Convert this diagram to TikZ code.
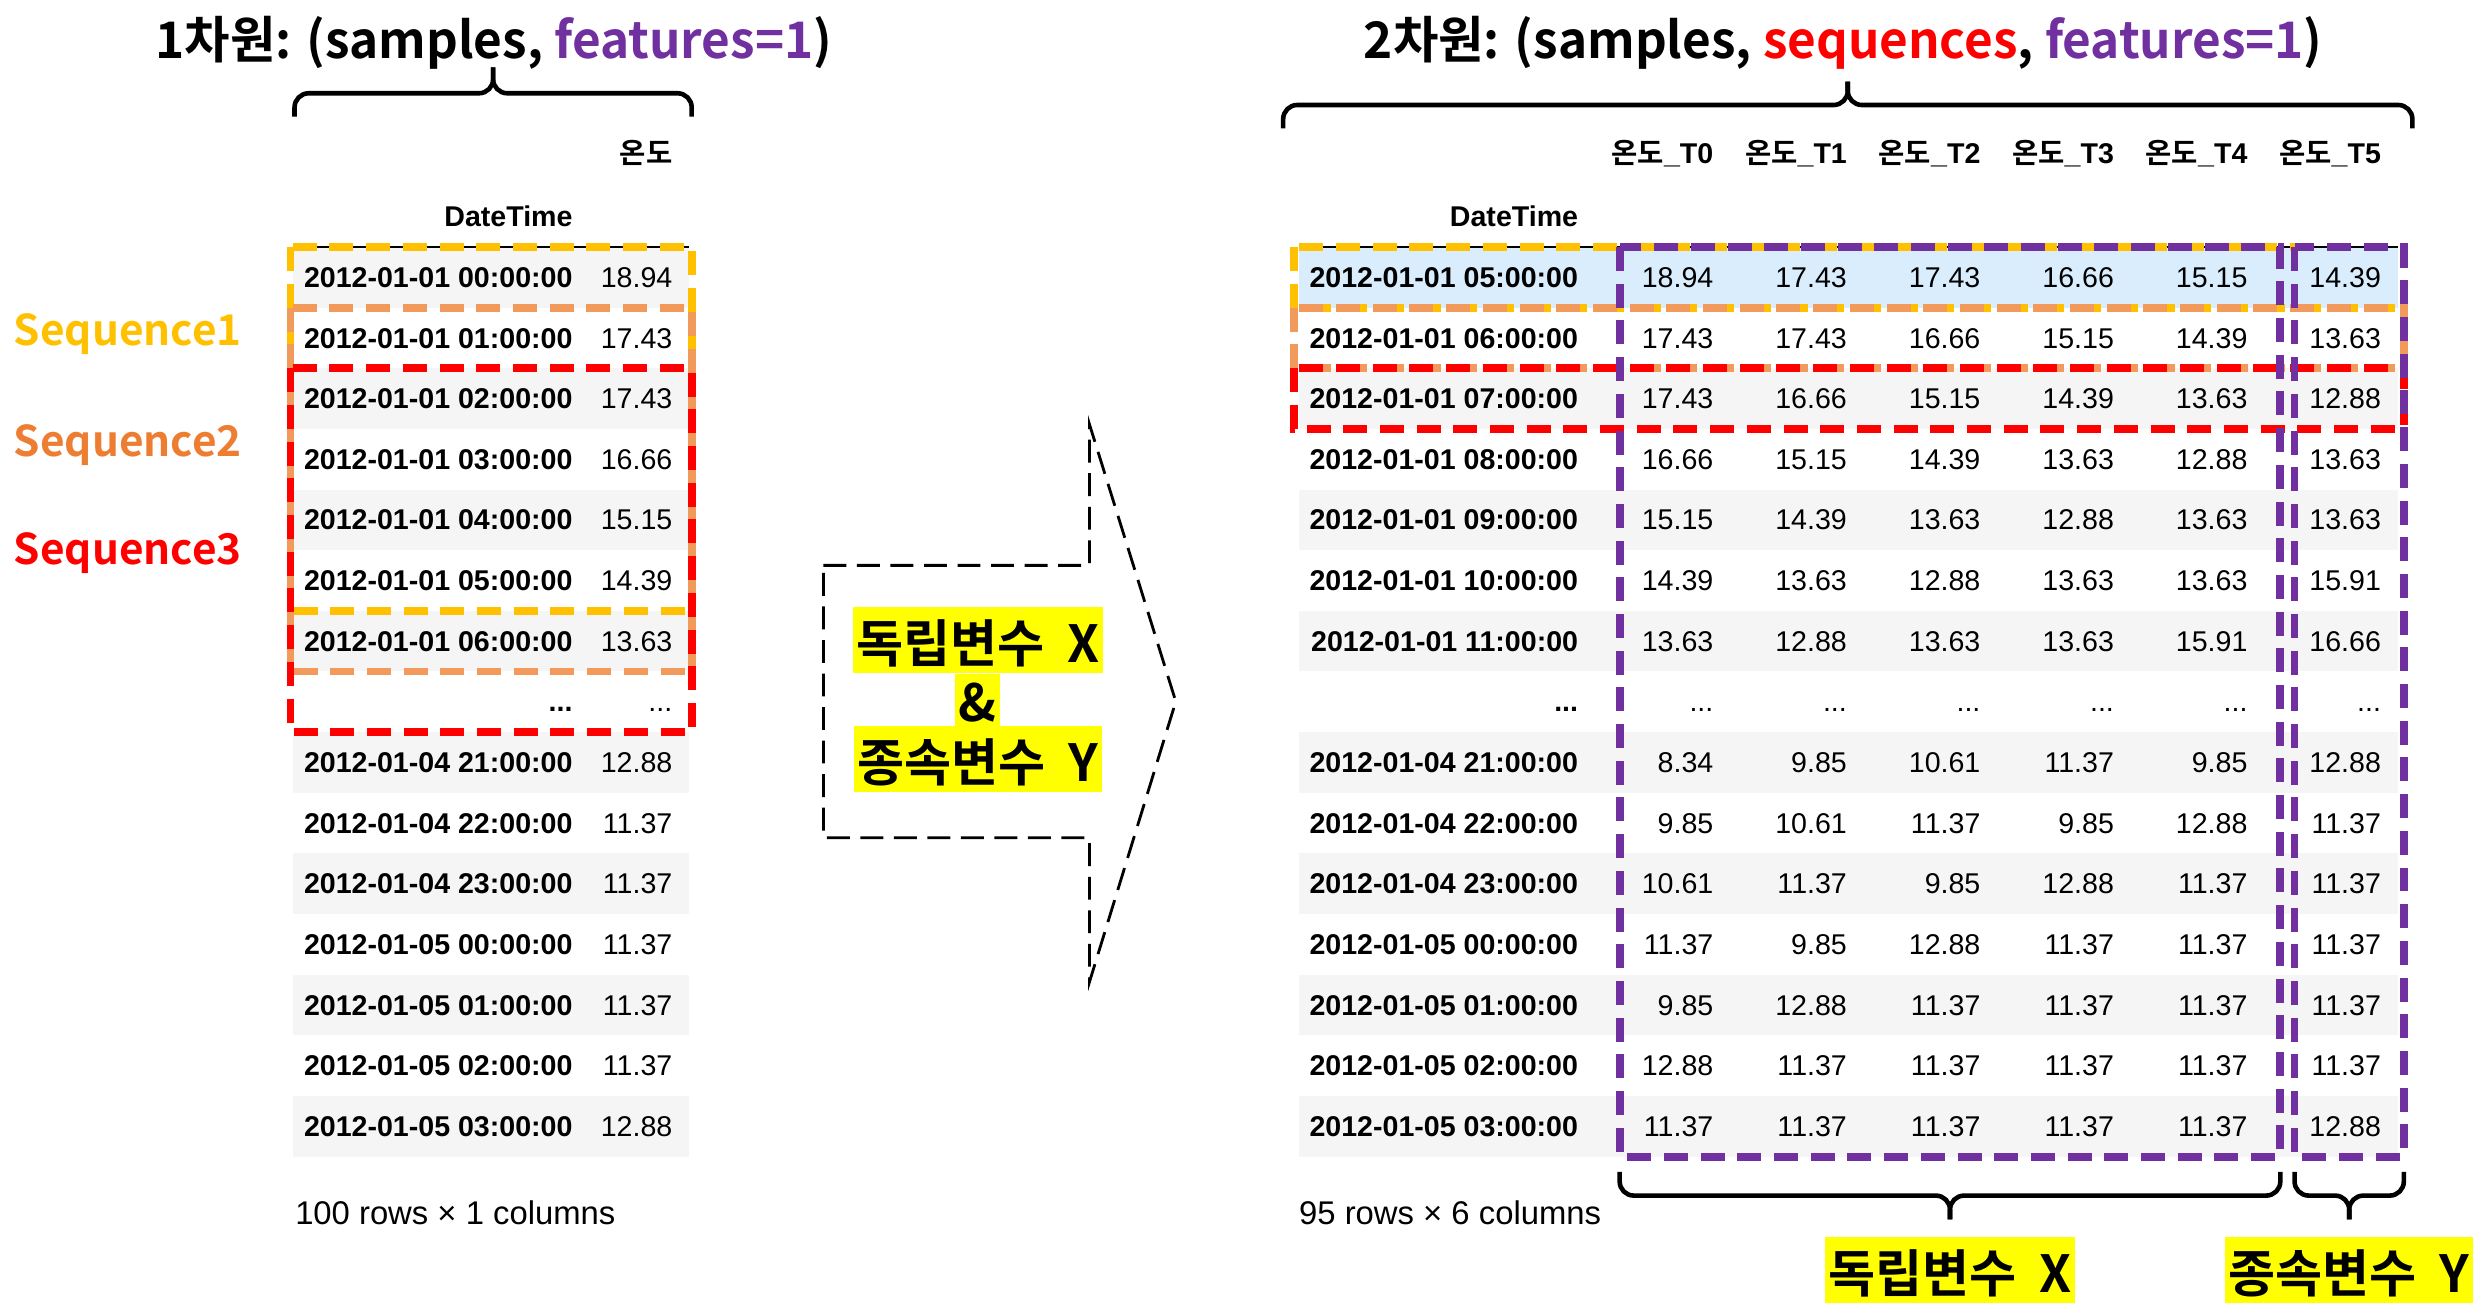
\documentclass[tikz,border=0pt]{standalone}
\usepackage{fontspec}
\setmainfont{Liberation Sans}
\newfontfamily\krfont{Noto Sans CJK KR}[BoldFont={Noto Sans CJK KR Bold}]
\newfontfamily\krtitle{Noto Sans CJK KR}[BoldFont={Noto Sans CJK KR Bold}, FakeStretch=0.98]
\usetikzlibrary{calc}

\definecolor{seqYellow}{HTML}{FFC000}
\definecolor{seqOrange}{HTML}{F19A5C}
\definecolor{seqOrangeText}{HTML}{ED7D31}
\definecolor{seqRed}{HTML}{FF0000}
\definecolor{featPurple}{HTML}{7030A0}
\definecolor{rowGray}{HTML}{F5F5F5}
\definecolor{rowBlue}{HTML}{D9EDFD}
\definecolor{markYellow}{HTML}{FFFF00}

\newcommand{\tbfont}{\fontsize{8.1pt}{9.5pt}\selectfont}
\newcommand{\skipdots}{...}
\newcommand{\vgap}{\hspace{0.45em}}
\tikzset{
  tb/date/.style={anchor=base east, inner sep=0pt, font=\tbfont\bfseries},
  tb/val/.style={anchor=base east, inner sep=0pt, font=\tbfont},
  tb/head/.style={anchor=base east, inner sep=0pt, font=\tbfont\bfseries},
  tb/foot/.style={anchor=base west, inner sep=0pt, font=\fontsize{9.3pt}{10pt}\selectfont},
  tb/rule/.style={line width=0.5pt, draw=black},
  ttl/.style={anchor=base, inner sep=0pt,
    font=\fontsize{14.3pt}{17pt}\selectfont\krtitle\bfseries},
  seq/lbl/.style={anchor=base east, inner sep=0pt,
    font=\fontsize{12pt}{14pt}\selectfont\krfont\bfseries},
  seq/box/.style={line width=2.2pt, dash pattern=on 6.8pt off 3.6pt},
  var/mark/.style={fill=markYellow, inner xsep=1pt, inner ysep=0pt,
    text height=15.6pt, text depth=3.1pt,
    font=\fontsize{14.5pt}{17pt}\selectfont\krfont\bfseries},
  var/amp/.style={var/mark, text height=13.6pt, text depth=1.4pt},
  brc/.style={line width=1.3pt, rounded corners=4pt},
  flow/.style={draw=black, line width=0.8pt, dash pattern=on 6.5pt off 3pt}
}
% x-left, x-right, y-ends, y-bar, y-tip
\newcommand{\tablebrace}[5]{%
  \pgfmathsetmacro\bxm{(#1+#2)/2}
  \draw[brc] (#1,#3) |- (\bxm,#4) -- (\bxm,#5);
  \draw[brc] (#2,#3) |- (\bxm,#4) -- (\bxm,#5);
}

\begin{document}
\begin{tikzpicture}[x=0.4488pt, y=-0.4488pt]
  \useasboundingbox (0,0) rectangle (1568,830);
  \def\rowH{38.29}

  % row stripes
  \foreach \i in {1,3,5,7,9,11,13,15} {
    \fill[rowGray] (185,{156+\rowH*(\i-1)}) rectangle (435,{156+\rowH*\i});
    \fill[rowGray] (820,{156+\rowH*(\i-1)}) rectangle (1514,{156+\rowH*\i});
  }
  \fill[rowBlue] (820,156) rectangle (1514,{156+\rowH});
  \draw[tb/rule] (185,156) -- (435,156);
  \draw[tb/rule] (820,156) -- (1514,156);

  % titles
  \node[ttl] (title-1d) at (311.8,37)
    {1차원: (samples, \textcolor{featPurple}{features=1})};
  \node[ttl] (title-2d) at (1164,37)
    {2차원: (samples, \textcolor{seqRed}{sequences}, \textcolor{featPurple}{features=1})};
  \tablebrace{186}{436.8}{73.7}{58.9}{42.6}
  \tablebrace{810.3}{1523.4}{81}{66.3}{51.5}

  % 1D table
  \node[tb/head] (L-head) at (425,103) {\krfont 온도};
  \node[tb/head] (L-index) at (362,143) {DateTime};
  \foreach \dt/\v [count=\i] in {2012-01-01 00:00:00/18.94,
    2012-01-01 01:00:00/17.43,
    2012-01-01 02:00:00/17.43,
    2012-01-01 03:00:00/16.66,
    2012-01-01 04:00:00/15.15,
    2012-01-01 05:00:00/14.39,
    2012-01-01 06:00:00/13.63,
    \skipdots/\skipdots,
    2012-01-04 21:00:00/12.88,
    2012-01-04 22:00:00/11.37,
    2012-01-04 23:00:00/11.37,
    2012-01-05 00:00:00/11.37,
    2012-01-05 01:00:00/11.37,
    2012-01-05 02:00:00/11.37,
    2012-01-05 03:00:00/12.88} {
    \node[tb/date] (L-d-\i) at (362,{181.5+\rowH*(\i-1)}) {\dt};
    \node[tb/val] (L-v-\i) at (425,{181.5+\rowH*(\i-1)}) {\v};
  }
  \node[tb/foot] (L-foot) at (186,773) {100 rows × 1 columns};

  % 2D table
  \foreach \j/\lab in {1/T0,2/T1,3/T2,4/T3,5/T4,6/T5}
    \node[tb/head] (R-head-\j) at ({1082.4+84.32*(\j-1)},103) {{\krfont 온도}\_\lab};
  \node[tb/head] (R-index) at (997,143) {DateTime};
  \foreach \dt/\va/\vb/\vc/\vd/\ve/\vf [count=\i] in {2012-01-01 05:00:00/18.94/17.43/17.43/16.66/15.15/14.39,
    2012-01-01 06:00:00/17.43/17.43/16.66/15.15/14.39/13.63,
    2012-01-01 07:00:00/17.43/16.66/15.15/14.39/13.63/12.88,
    2012-01-01 08:00:00/16.66/15.15/14.39/13.63/12.88/13.63,
    2012-01-01 09:00:00/15.15/14.39/13.63/12.88/13.63/13.63,
    2012-01-01 10:00:00/14.39/13.63/12.88/13.63/13.63/15.91,
    2012-01-01 11:00:00/13.63/12.88/13.63/13.63/15.91/16.66,
    \skipdots/\skipdots/\skipdots/\skipdots/\skipdots/\skipdots/\skipdots,
    2012-01-04 21:00:00/8.34/9.85/10.61/11.37/9.85/12.88,
    2012-01-04 22:00:00/9.85/10.61/11.37/9.85/12.88/11.37,
    2012-01-04 23:00:00/10.61/11.37/9.85/12.88/11.37/11.37,
    2012-01-05 00:00:00/11.37/9.85/12.88/11.37/11.37/11.37,
    2012-01-05 01:00:00/9.85/12.88/11.37/11.37/11.37/11.37,
    2012-01-05 02:00:00/12.88/11.37/11.37/11.37/11.37/11.37,
    2012-01-05 03:00:00/11.37/11.37/11.37/11.37/11.37/12.88} {
    \node[tb/date] (R-d-\i) at (997,{181.5+\rowH*(\i-1)}) {\dt};
    \foreach \v [count=\j] in {\va,\vb,\vc,\vd,\ve,\vf}
      \node[tb/val] (R-v-\i-\j) at ({1082.4+84.32*(\j-1)},{181.5+\rowH*(\i-1)}) {\v};
  }
  \node[tb/foot] (R-foot) at (820,773) {95 rows × 6 columns};

  % sequence windows
  \draw[seq/box, seqYellow] (183.4,156) rectangle (437,{156+6*\rowH});
  \draw[seq/box, seqOrange] (183.4,{156+\rowH}) rectangle (437,{156+7*\rowH});
  \draw[seq/box, seqRed] (183.4,{156+2*\rowH}) rectangle (437,{156+8*\rowH});
  \draw[seq/box, seqYellow] (817,156) rectangle (1518,{156+\rowH});
  \draw[seq/box, seqOrange] (817,{156+\rowH}) rectangle (1518,{156+2*\rowH});
  \draw[seq/box, seqRed] (817,{156+2*\rowH}) rectangle (1518,{156+3*\rowH});
  \draw[seq/box, featPurple] (1022.8,156) rectangle (1440,730.5);
  \draw[seq/box, featPurple] (1449,156) rectangle (1518,730.5);

  \node[seq/lbl, text=seqYellow] (seq-1) at (153,218.3) {Sequence1};
  \node[seq/lbl, text=seqOrangeText] (seq-2) at (153,288.3) {Sequence2};
  \node[seq/lbl, text=seqRed] (seq-3) at (153,356.3) {Sequence3};

  % transform arrow
  \draw[flow] (520,357) -- (688,357) -- (688,268) -- (742.5,443)
    -- (688,620) -- (688,529) -- (520,529) -- cycle;
  \node[var/mark, anchor=north] (mid-x) at (617.5,383) {독립변수\vgap X};
  \node[var/amp, anchor=north] (mid-and) at (617.5,425) {\&};
  \node[var/mark, anchor=north] (mid-y) at (617.5,458) {종속변수\vgap Y};

  % X / Y split
  \tablebrace{1022.8}{1440}{740}{755}{770}
  \tablebrace{1449}{1518}{740}{755}{770}
  \node[var/mark, anchor=north] (lbl-x) at (1231.5,781) {독립변수\vgap X};
  \node[var/mark, anchor=north] (lbl-y) at (1483.5,781) {종속변수\vgap Y};
\end{tikzpicture}
\end{document}
